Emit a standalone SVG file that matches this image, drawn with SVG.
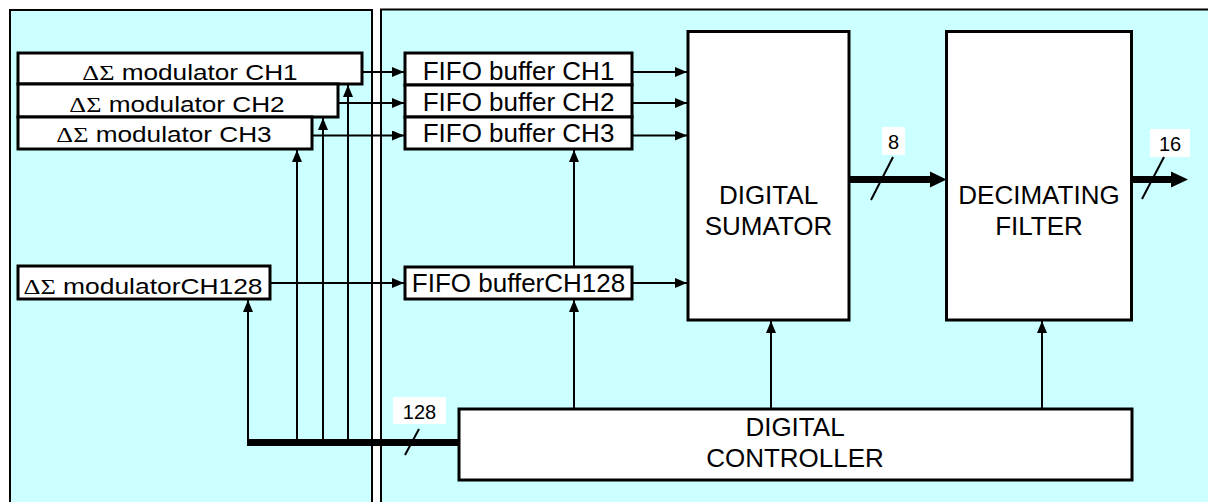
<svg xmlns="http://www.w3.org/2000/svg" width="1208" height="502" viewBox="0 0 1208 502">
<style>
.panel{fill:#CCFFFF;stroke:#000;stroke-width:2}
.box{fill:#fff;stroke:#000;stroke-width:3}
.t{font-family:"Liberation Sans",Arial,sans-serif;fill:#000}
.big{font-size:26px;text-anchor:middle}
.mod{font-size:22px;text-anchor:middle}
.sym{font-family:"Liberation Serif","Times New Roman",serif}
.lbl{font-size:20px;text-anchor:middle}
.w{stroke:#000;stroke-width:2;fill:none}
.bus{stroke:#000;stroke-width:7;fill:none}
.lab{fill:#fff;stroke:none}
</style>
<defs>
<marker id="ah" markerUnits="userSpaceOnUse" markerWidth="13" markerHeight="11" refX="12" refY="5" orient="auto">
<path d="M0,0 L12,5 L0,10 z" fill="#000"/>
</marker>
</defs>
<rect width="1208" height="502" fill="#fff"/>
<g id="panels">
<rect class="panel" x="10" y="10" width="362" height="600"/>
<rect class="panel" x="381" y="9.5" width="900" height="600"/>
</g>
<g id="mod1"><rect class="box" x="18" y="53" width="344" height="31"/>
<text class="t mod" transform="translate(190,79.5) scale(1.19,1)"><tspan class="sym">ΔΣ</tspan> modulator CH1</text></g>
<g id="mod2"><rect class="box" x="18" y="84" width="320" height="33"/>
<text class="t mod" transform="translate(177,111.5) scale(1.19,1)"><tspan class="sym">ΔΣ</tspan> modulator CH2</text></g>
<g id="mod3"><rect class="box" x="18" y="117" width="294" height="32"/>
<text class="t mod" transform="translate(164,142) scale(1.19,1)"><tspan class="sym">ΔΣ</tspan> modulator CH3</text></g>
<g id="mod128"><rect class="box" x="18" y="266" width="252" height="33"/>
<text class="t mod" transform="translate(143,294) scale(1.2,1)"><tspan class="sym">ΔΣ</tspan> modulatorCH128</text></g>
<g id="fifo1"><rect class="box" x="405" y="53" width="227" height="32"/>
<text class="t big" x="518.5" y="80">FIFO buffer CH1</text></g>
<g id="fifo2"><rect class="box" x="405" y="85" width="227" height="32"/>
<text class="t big" x="518.5" y="111">FIFO buffer CH2</text></g>
<g id="fifo3"><rect class="box" x="405" y="117" width="227" height="32"/>
<text class="t big" x="518.5" y="142">FIFO buffer CH3</text></g>
<g id="fifo128"><rect class="box" x="405" y="267" width="227" height="32"/>
<text class="t big" x="518.5" y="292">FIFO bufferCH128</text></g>
<g id="sumator"><rect class="box" x="688" y="31.5" width="161" height="288.5"/>
<text class="t big" x="768.5" y="204">DIGITAL</text>
<text class="t big" x="768.5" y="235">SUMATOR</text></g>
<g id="filter"><rect class="box" x="946.5" y="31.5" width="185" height="288.5"/>
<text class="t big" x="1039" y="204">DECIMATING</text>
<text class="t big" x="1039" y="235">FILTER</text></g>
<g id="controller"><rect class="box" x="459" y="409" width="673" height="71"/>
<text class="t big" x="795" y="436">DIGITAL</text>
<text class="t big" x="795" y="467">CONTROLLER</text></g>
<g id="connectors">
<line class="w" x1="362" y1="72" x2="404" y2="72" marker-end="url(#ah)"/>
<line class="w" x1="338" y1="103" x2="404" y2="103" marker-end="url(#ah)"/>
<line class="w" x1="312" y1="135.5" x2="404" y2="135.5" marker-end="url(#ah)"/>
<line class="w" x1="270" y1="283" x2="404" y2="283" marker-end="url(#ah)"/>
<line class="w" x1="632" y1="72" x2="687" y2="72" marker-end="url(#ah)"/>
<line class="w" x1="632" y1="103" x2="687" y2="103" marker-end="url(#ah)"/>
<line class="w" x1="632" y1="135.5" x2="687" y2="135.5" marker-end="url(#ah)"/>
<line class="w" x1="632" y1="283" x2="687" y2="283" marker-end="url(#ah)"/>
<line class="w" x1="574" y1="267" x2="574" y2="150" marker-end="url(#ah)"/>
<line class="w" x1="574" y1="409" x2="574" y2="300" marker-end="url(#ah)"/>
<line class="w" x1="771" y1="409" x2="771" y2="321" marker-end="url(#ah)"/>
<line class="w" x1="1042" y1="409" x2="1042" y2="321" marker-end="url(#ah)"/>
<line class="w" x1="248" y1="442" x2="248" y2="300" marker-end="url(#ah)"/>
<line class="w" x1="297" y1="442" x2="297" y2="150" marker-end="url(#ah)"/>
<line class="w" x1="323" y1="442" x2="323" y2="118" marker-end="url(#ah)"/>
<line class="w" x1="348" y1="442" x2="348" y2="85" marker-end="url(#ah)"/>
<line class="bus" x1="247" y1="442.5" x2="459" y2="442.5"/>
<line class="bus" x1="849" y1="179.5" x2="932" y2="179.5"/>
<polygon points="930,171.5 946.5,179.5 930,187.5" fill="#000"/>
<line class="bus" x1="1132" y1="179.5" x2="1173" y2="179.5"/>
<polygon points="1171,171.5 1188,179.5 1171,187.5" fill="#000"/>
<rect class="lab" x="393" y="397" width="53" height="27"/>
<text class="t lbl" x="419.5" y="419">128</text>
<line class="w" x1="405" y1="455" x2="419" y2="429" stroke-width="1.6"/>
<rect class="lab" x="882" y="127" width="23" height="28"/>
<text class="t lbl" x="893.5" y="149">8</text>
<line class="w" x1="871" y1="200" x2="893" y2="157" stroke-width="1.6"/>
<rect class="lab" x="1150" y="129" width="40" height="28"/>
<text class="t lbl" x="1170" y="151">16</text>
<line class="w" x1="1142" y1="199" x2="1164" y2="157" stroke-width="1.6"/>
</g>
</svg>
